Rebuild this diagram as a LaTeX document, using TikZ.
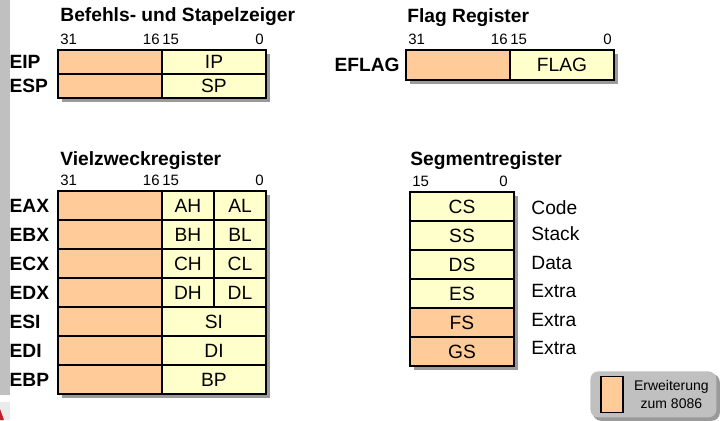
\documentclass[tikz,border=0pt]{standalone}
\usepackage{fontspec}
\setmainfont{Liberation Sans}
\usepackage{xcolor}
\usepackage{tikz}
\usetikzlibrary{positioning,backgrounds}
\definecolor{extorange}{HTML}{FFCC99}
\definecolor{regyellow}{HTML}{FFFFCC}
\definecolor{sidegray}{HTML}{C0C0C0}
\definecolor{shadegray}{HTML}{9A9A9A}
\definecolor{sidered}{HTML}{C0202A}
\tikzset{hi cell/.style={draw,fill=extorange,line width=0.8pt,minimum width=52pt,minimum height=14.5pt,inner sep=0pt,outer sep=0pt},
         lo cell/.style={hi cell,fill=regyellow},
         qt cell/.style={lo cell,minimum width=26pt},}
\tikzstyle{bitnum} = [font=\fontsize{7.5}{9}\selectfont,inner sep=0pt]
\tikzstyle{title} = [font=\fontsize{9.6}{11}\selectfont\bfseries,inner sep=0pt]
\tikzstyle{reglabel} = [font=\fontsize{9.6}{11}\selectfont\bfseries,inner sep=0pt,text width=22pt,align=left]
\tikzstyle{seglabel} = [inner sep=0pt,anchor=west]
\tikzstyle{shadow} = [fill=shadegray]

\begin{document}
\begin{tikzpicture}[x=0.5pt,y=-0.5pt,font=\fontsize{9.6}{11}\selectfont]
    \useasboundingbox (0,0) rectangle (720,420);
    % side bar of the slide
    \fill[sidegray] (0,0) rectangle (10,395);
    \fill[black!8] (0,402) rectangle (10,420);
    \fill[sidered] (0,409) -- (4,420) -- (0,420) -- cycle;

    % Befehls- und Stapelzeiger
    \node[hi cell,minimum height=12pt,anchor=north west] (eip) at (58,50) {};
    \node[lo cell,minimum height=12pt] (ip)[right=0pt of eip] {IP};
    \node[hi cell,minimum height=12pt] (esp)[below=0pt of eip] {};
    \node[lo cell,minimum height=12pt] (sp)[right=0pt of esp] {SP};
    \node[reglabel] (eipl)[left=2pt of eip] {EIP};
    \node[reglabel] (espl)[left=2pt of esp] {ESP};
    \node[title,anchor=base west] (ptrt) at ([xshift=1pt,yshift=14.5pt]eip.north west) {Befehls- und Stapelzeiger};
    \node[bitnum,anchor=base west] (ptr31) at ([xshift=1pt,yshift=3pt]eip.north west) {31};
    \node[bitnum,anchor=base east] (ptr16) at ([xshift=-1pt,yshift=3pt]eip.north east) {16};
    \node[bitnum,anchor=base west] (ptr15) at ([xshift=0pt,yshift=3pt]ip.north west) {15};
    \node[bitnum,anchor=base east] (ptr0) at ([xshift=-1pt,yshift=3pt]ip.north east) {0};

    % Flag Register
    \node[hi cell,minimum height=15pt,anchor=north west] (eflag) at (406,50) {};
    \node[lo cell,minimum height=15pt] (flag)[right=0pt of eflag] {FLAG};
    \node[reglabel,text width=,align=right] (eflagl)[left=3pt of eflag] {EFLAG};
    \node[title,anchor=base west] (flagt) at ([xshift=0.5pt,yshift=14pt]eflag.north west) {Flag Register};
    \node[bitnum,anchor=base west] (flag31) at ([xshift=1pt,yshift=3pt]eflag.north west) {31};
    \node[bitnum,anchor=base east] (flag16) at ([xshift=-1pt,yshift=3pt]eflag.north east) {16};
    \node[bitnum,anchor=base west] (flag15) at ([xshift=0pt,yshift=3pt]flag.north west) {15};
    \node[bitnum,anchor=base east] (flag0) at ([xshift=-1pt,yshift=3pt]flag.north east) {0};

    % Vielzweckregister
    \node[hi cell,anchor=north west] (eax) at (58,191) {};
    \node[qt cell] (ah)[right=0pt of eax] {AH};
    \node[qt cell] (al)[right=0pt of ah] {AL};
    \node[hi cell] (ebx)[below=0pt of eax] {};
    \node[qt cell] (bh)[right=0pt of ebx] {BH};
    \node[qt cell] (bl)[right=0pt of bh] {BL};
    \node[hi cell] (ecx)[below=0pt of ebx] {};
    \node[qt cell] (ch)[right=0pt of ecx] {CH};
    \node[qt cell] (cl)[right=0pt of ch] {CL};
    \node[hi cell] (edx)[below=0pt of ecx] {};
    \node[qt cell] (dh)[right=0pt of edx] {DH};
    \node[qt cell] (dl)[right=0pt of dh] {DL};
    \node[hi cell] (esi)[below=0pt of edx] {};
    \node[lo cell] (si)[right=0pt of esi] {SI};
    \node[hi cell] (edi)[below=0pt of esi] {};
    \node[lo cell] (di)[right=0pt of edi] {DI};
    \node[hi cell] (ebp)[below=0pt of edi] {};
    \node[lo cell] (bp)[right=0pt of ebp] {BP};
    \node[reglabel] (eaxl)[left=2pt of eax] {EAX};
    \node[reglabel] (ebxl)[left=2pt of ebx] {EBX};
    \node[reglabel] (ecxl)[left=2pt of ecx] {ECX};
    \node[reglabel] (edxl)[left=2pt of edx] {EDX};
    \node[reglabel] (esil)[left=2pt of esi] {ESI};
    \node[reglabel] (edil)[left=2pt of edi] {EDI};
    \node[reglabel] (ebpl)[left=2pt of ebp] {EBP};
    \node[title,anchor=base west] (gpt) at ([xshift=1pt,yshift=13pt]eax.north west) {Vielzweckregister};
    \node[bitnum,anchor=base west] (gp31) at ([xshift=1pt,yshift=3pt]eax.north west) {31};
    \node[bitnum,anchor=base east] (gp16) at ([xshift=-1pt,yshift=3pt]eax.north east) {16};
    \node[bitnum,anchor=base west] (gp15) at ([xshift=0pt,yshift=3pt]ah.north west) {15};
    \node[bitnum,anchor=base east] (gp0) at ([xshift=-1pt,yshift=3pt]al.north east) {0};

    % Segmentregister
    \node[lo cell,anchor=north west] (cs) at (410,192) {CS};
    \node[lo cell] (ss)[below=0pt of cs] {SS};
    \node[lo cell] (ds)[below=0pt of ss] {DS};
    \node[lo cell] (es)[below=0pt of ds] {ES};
    \node[hi cell] (fs)[below=0pt of es] {FS};
    \node[hi cell] (gs)[below=0pt of fs] {GS};
    \node[seglabel] (csl) at ([xshift=8.5pt,yshift=-0.5pt]cs.east) {Code};
    \node[seglabel] (ssl) at ([xshift=8.5pt,yshift=1pt]ss.east) {Stack};
    \node[seglabel] (dsl) at ([xshift=8.5pt,yshift=1pt]ds.east) {Data};
    \node[seglabel] (esl) at ([xshift=8.5pt,yshift=1.5pt]es.east) {Extra};
    \node[seglabel] (fsl) at ([xshift=8.5pt,yshift=1.5pt]fs.east) {Extra};
    \node[seglabel] (gsl) at ([xshift=8.5pt,yshift=2pt]gs.east) {Extra};
    \node[title,anchor=base west] (segt) at ([xshift=0pt,yshift=13.5pt]cs.north west) {Segmentregister};
    \node[bitnum,anchor=base west] (seg15) at ([xshift=1pt,yshift=3pt]cs.north west) {15};
    \node[bitnum,anchor=base east] (seg0) at ([xshift=-3pt,yshift=3pt]cs.north east) {0};

    % legend
    \node[fill=sidegray,rounded corners=4pt,minimum width=63pt,minimum height=23pt,inner sep=0pt,anchor=north west] (legend) at (590,371) {};
    \node[hi cell,minimum width=11pt,minimum height=18pt,anchor=west] (swatch) at ([xshift=5.5pt]legend.west) {};
    \node[font=\fontsize{7}{9}\selectfont,align=center,inner sep=0pt] (legendt) at ([xshift=9pt]legend.center) {Erweiterung\\zum 8086};

    % shadows
    \begin{scope}[on background layer]
        \fill[shadow] ([xshift=2pt,yshift=-2pt]eip.north west) rectangle ([xshift=2pt,yshift=-2pt]sp.south east);
        \fill[shadow] ([xshift=2pt,yshift=-2pt]eflag.north west) rectangle ([xshift=2pt,yshift=-2pt]flag.south east);
        \fill[shadow] ([xshift=2pt,yshift=-2pt]eax.north west) rectangle ([xshift=2pt,yshift=-2pt]bp.south east);
        \fill[shadow] ([xshift=2pt,yshift=-2pt]cs.north west) rectangle ([xshift=2pt,yshift=-2pt]gs.south east);
        \fill[shadow,rounded corners=4pt] ([xshift=1.5pt,yshift=-1.5pt]legend.north west) rectangle ([xshift=1.5pt,yshift=-1.5pt]legend.south east);
    \end{scope}
\end{tikzpicture}
\end{document}
